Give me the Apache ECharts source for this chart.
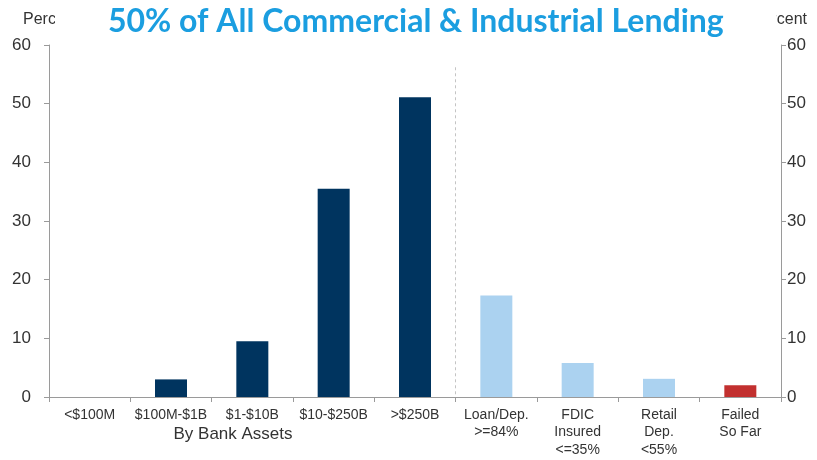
<!DOCTYPE html>
<html>
<head>
<meta charset="utf-8">
<script src="https://cdn.jsdelivr.net/npm/echarts@6/dist/echarts.min.js"></script>
<style>
  html, body { margin: 0; padding: 0; background: #fff; }
  #chart { width: 817px; height: 460px; }
</style>
</head>
<body>
<div id="chart"></div>
<script>
// Share of C&I lending, by bank size and by balance-sheet characteristic
const categories = ['<$100M', '$100M-$1B', '$1-$10B', '$10-$250B', '>$250B',
                    'Loan/Dep.\n>=84%', 'FDIC\nInsured\n<=35%', 'Retail\nDep.\n<55%', 'Failed\nSo Far'];
const values = [0, 3.0, 9.5, 35.5, 51.1, 17.3, 5.8, 3.1, 2.0];
const groups = ['size', 'size', 'size', 'size', 'size', 'trait', 'trait', 'trait', 'failed'];
const yTicks = [0, 10, 20, 30, 40, 50, 60];

const groupColors = { size: '#00345f', trait: '#abd2f0', failed: '#c2302f' };
const axisGray = '#9a9a9a';
const labelColor = '#333';
const labelFont = 'Liberation Sans';

const chart = echarts.init(document.getElementById('chart'), null, { renderer: 'canvas' });

const yAxisCommon = {
  type: 'value',
  min: yTicks[0],
  max: yTicks[yTicks.length - 1],
  interval: yTicks[1] - yTicks[0],
  axisLine: { show: true, lineStyle: { color: axisGray, width: 1 } },
  axisTick: { show: true, length: 5, lineStyle: { color: axisGray } },
  splitLine: { show: false }
};

chart.setOption({
  animation: false,
  backgroundColor: '#fff',
  title: {
    text: '50% of All Commercial & Industrial Lending',
    left: 55,
    top: 0,
    padding: [6, 53, 6, 53],
    backgroundColor: '#fff',
    z: 20,
    textStyle: { color: '#1b9ee0', fontFamily: 'Lato', fontWeight: 'bold', fontSize: 32 }
  },
  grid: { left: 49, right: 36, top: 45, bottom: 63, containLabel: false },
  xAxis: {
    type: 'category',
    data: categories,
    boundaryGap: true,
    axisLine: { show: true, lineStyle: { color: axisGray, width: 1 } },
    axisTick: { show: true, length: 5, lineStyle: { color: axisGray } },
    axisLabel: {
      interval: 0, margin: 9, color: labelColor,
      fontFamily: labelFont, fontSize: 14, lineHeight: 17.5
    },
    splitLine: { show: false }
  },
  yAxis: [
    Object.assign({}, yAxisCommon, {
      position: 'left',
      axisLabel: { margin: 18, color: labelColor, fontFamily: labelFont, fontSize: 17 }
    }),
    Object.assign({}, yAxisCommon, {
      position: 'right',
      axisLabel: { margin: 6, color: labelColor, fontFamily: labelFont, fontSize: 17 }
    })
  ],
  series: [{
    type: 'bar',
    yAxisIndex: 0,
    barWidth: 32,
    data: values.map((v, i) => ({ value: v, itemStyle: { color: groupColors[groups[i]] } }))
  }]
});

// Dashed divider between the size buckets and the balance-sheet groups,
// plus the axis captions; the divider position comes from the axes.
const xLeft = chart.convertToPixel({ xAxisIndex: 0 }, categories[4]);
const xRight = chart.convertToPixel({ xAxisIndex: 0 }, categories[5]);
const xDivider = Math.round((xLeft + xRight) / 2) - 0.5;
const yBase = chart.convertToPixel({ yAxisIndex: 0 }, 0);
const yTop = chart.convertToPixel({ yAxisIndex: 0 }, 56.2);

chart.setOption({
  graphic: [
    { type: 'line', z: 5, silent: true,
      shape: { x1: xDivider, y1: yTop, x2: xDivider, y2: yBase },
      style: { stroke: '#c4c4c4', lineWidth: 1, lineDash: [3, 3] } },
    { type: 'text', left: 23, top: 12, z: 1,
      style: { text: 'Percent', fill: labelColor, font: '16px "Liberation Sans", Arial' } },
    { type: 'text', right: 10, top: 12, z: 1,
      style: { text: 'Percent', fill: labelColor, font: '16px "Liberation Sans", Arial' } },
    { type: 'text', x: 233, y: 426, z: 1,
      style: { text: 'By Bank Assets', fill: labelColor, align: 'center',
               font: '17px "Liberation Sans", Arial' } }
  ]
});
</script>
</body>
</html>
